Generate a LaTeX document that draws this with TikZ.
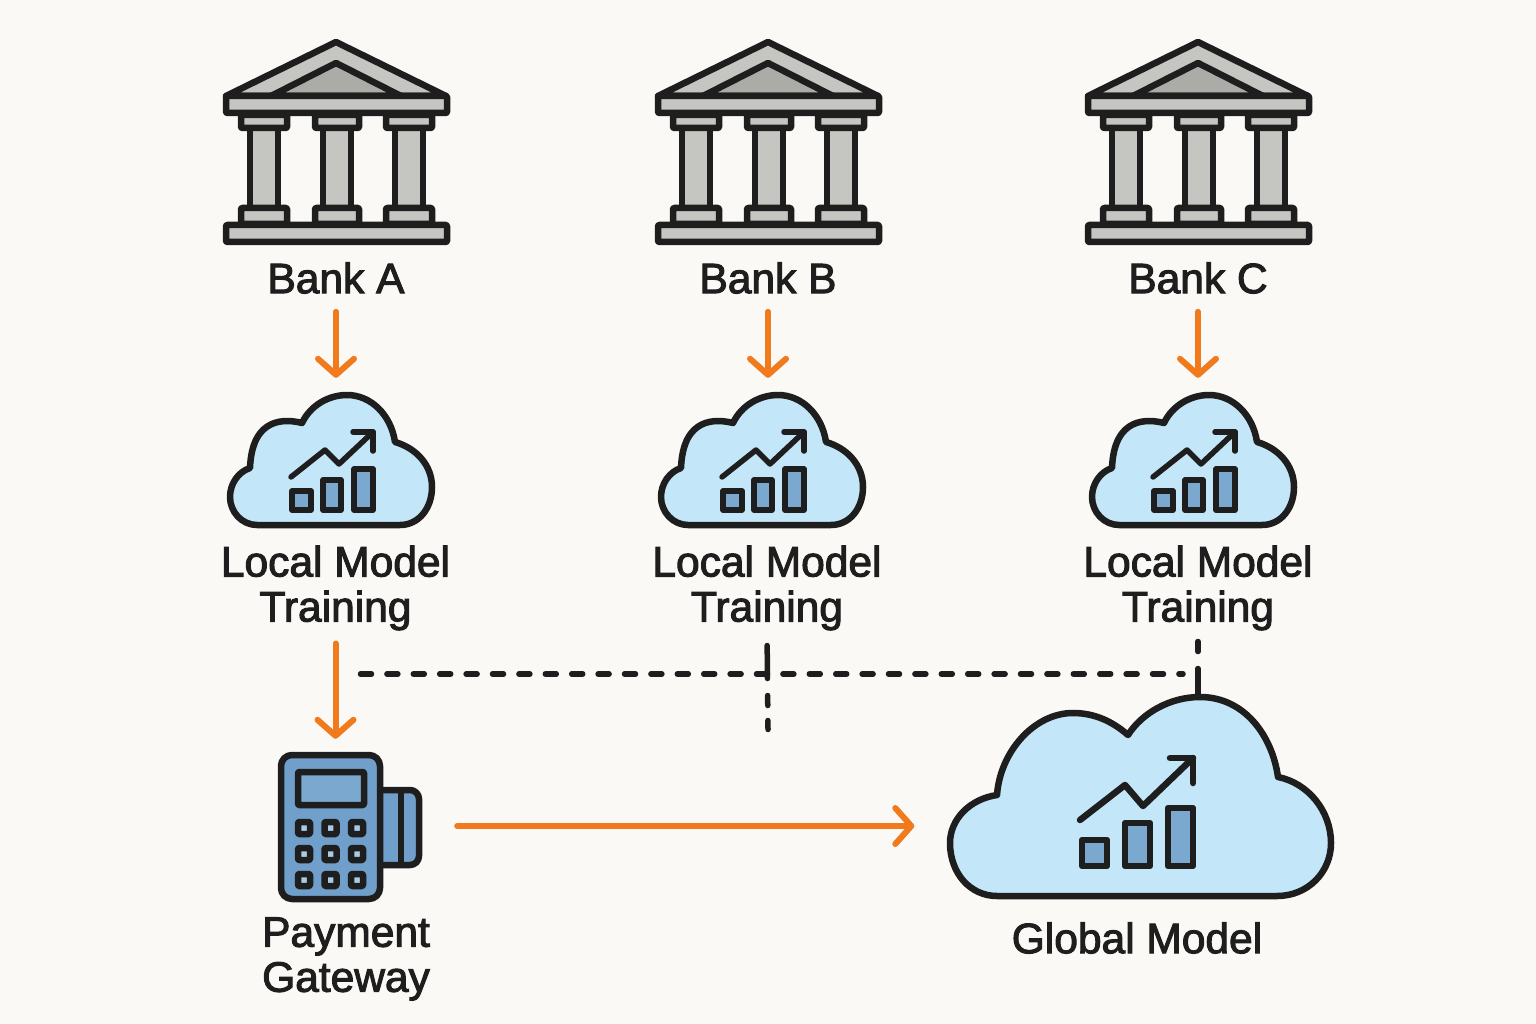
\documentclass[tikz,border=0pt]{standalone}
\usepackage{fontspec}
\setmainfont[RawFeature={embolden=2.4}]{Liberation Sans}
\usetikzlibrary{arrows.meta}
\definecolor{paper}{HTML}{FAF9F5}
\definecolor{ink}{HTML}{1E1E1E}
\definecolor{flow}{HTML}{F07A1C}
\definecolor{stone}{HTML}{C5C5C1}
\definecolor{stonedark}{HTML}{ABABA7}
\definecolor{skyfill}{HTML}{C3E6F8}
\definecolor{barfill}{HTML}{7BA8CE}
\definecolor{padfill}{HTML}{6F9FCA}
\definecolor{keyfill}{HTML}{A9CCE4}

\tikzset{
  outline/.style={draw=ink, line width=6.5pt, line join=round},
  pics/bankicon/.style={code={
    \draw[outline, fill=stone] (0,-99) -- (110,-45) -- (-110,-45) -- cycle;
    \draw[outline, fill=stonedark] (0,-78) -- (65,-45) -- (-65,-45) -- cycle;
    \draw[outline, fill=stone, rounded corners=1pt] (-110,-45) rectangle (111,-28);
    \draw[outline, fill=stone] (-86,-13) rectangle (-58,67);
    \draw[outline, fill=stone] (-13,-13) rectangle (15,67);
    \draw[outline, fill=stone] (59,-13) rectangle (87,67);
    \draw[outline, fill=stone, rounded corners=1pt] (-95,-26) rectangle (-49,-13);
    \draw[outline, fill=stone, rounded corners=1pt] (-21,-26) rectangle (23,-13);
    \draw[outline, fill=stone, rounded corners=1pt] (50,-26) rectangle (96,-13);
    \draw[outline, fill=stone, rounded corners=1pt] (-95,67) rectangle (-49,83);
    \draw[outline, fill=stone, rounded corners=1pt] (-21,67) rectangle (23,83);
    \draw[outline, fill=stone, rounded corners=1pt] (50,67) rectangle (96,83);
    \draw[outline, fill=stone, rounded corners=1pt] (-110,84) rectangle (111,101);
  }},
  pics/smallcloud/.style={code={
    \draw[outline, fill=skyfill] (-79,65) -- (64,65)
      .. controls (83,65) and (96,48) .. (96,27)
      .. controls (96,5) and (80,-12) .. (59,-18)
      .. controls (55,-45) and (35,-65) .. (11,-65)
      .. controls (-8,-65) and (-26,-54) .. (-34,-37)
      .. controls (-50,-41) and (-84,-44) .. (-86,8)
      .. controls (-98,12) and (-106,24) .. (-106,37)
      .. controls (-106,52) and (-94,65) .. (-79,65) -- cycle;
    \draw[outline, fill=barfill, line width=5.5pt] (-44,31) rectangle (-25,50);
    \draw[outline, fill=barfill, line width=5.5pt] (-13,20) rectangle (5,50);
    \draw[outline, fill=barfill, line width=5.5pt] (18,9) rectangle (37,50);
    \draw[outline, line width=5.5pt, line cap=round] (-45,17) -- (-11,-10) -- (3,4) -- (37,-28);
    \draw[outline, line width=5.5pt, line cap=round] (17,-28) -- (37,-28) -- (37,-9);
  }},
  pics/bigcloud/.style={code={
    \draw[outline, fill=skyfill] (-143,99) -- (137,99)
      .. controls (168,99) and (191,75) .. (191,46)
      .. controls (191,14) and (168,-14) .. (138,-20)
      .. controls (132,-62) and (104,-100) .. (60,-100)
      .. controls (30,-100) and (2,-84) .. (-12,-62)
      .. controls (-28,-76) and (-46,-84) .. (-67,-84)
      .. controls (-106,-84) and (-140,-45) .. (-143,-2)
      .. controls (-170,2) and (-190,22) .. (-190,46)
      .. controls (-190,76) and (-170,99) .. (-143,99) -- cycle;
    \draw[outline, fill=barfill] (-58,43) rectangle (-33,69);
    \draw[outline, fill=barfill] (-15,26) rectangle (10,69);
    \draw[outline, fill=barfill] (28,11) rectangle (53,69);
    \draw[outline, line cap=round] (-60,23) -- (-15,-12) -- (3,9) -- (53,-39);
    \draw[outline, line cap=round] (30,-39) -- (53,-39) -- (53,-14);
  }},
  pics/paymentpad/.style={code={
    \draw[outline, fill=padfill, rounded corners=9pt] (20,-37) -- (69,-37) -- (69,38) -- (20,38) -- cycle;
    \draw[outline] (51,-37) -- (51,38);
    \draw[outline, fill=padfill, rounded corners=11pt] (-69,-72) rectangle (30,72);
    \draw[outline, fill=barfill, rounded corners=1pt] (-52,-55) rectangle (14,-22);
    \foreach \kx in {-46,-19.5,7}
      \foreach \ky in {1,27,53}
        \draw[outline, fill=keyfill, rounded corners=1pt] (\kx-6,\ky-6) rectangle (\kx+6,\ky+6);
  }}
}

\begin{document}
\begin{tikzpicture}[x=1pt, y=-1pt,
      iconbox/.style={inner sep=0pt, minimum width=200pt, minimum height=130pt},
      caption/.style={inner sep=0pt, align=center, text=ink, font=\fontsize{42.5}{45}\selectfont},
      trainflow/.style={draw=flow, line width=6pt, line cap=round,
        -{Straight Barb[length=16pt, width=36pt, round, line width=6pt]}},
      link/.style={draw=ink, line width=5.5pt, line cap=round},
      linkdash/.style={link, dash pattern=on 11pt off 15.4pt}]
    \fill[paper] (0,0) rectangle (1536,1024);

    \node[iconbox] (bankA) at (336,141) {};
    \node[iconbox] (bankB) at (768,141) {};
    \node[iconbox] (bankC) at (1198,141) {};
    \pic at (bankA) {bankicon};
    \pic at (bankB) {bankicon};
    \pic at (bankC) {bankicon};

    \node[caption] (nameA) at (336,278) {Bank A};
    \node[caption] (nameB) at (768,278) {Bank B};
    \node[caption] (nameC) at (1198,278) {Bank C};

    \node[iconbox] (cloudA) at (336,460) {};
    \node[iconbox] (cloudB) at (767,460) {};
    \node[iconbox] (cloudC) at (1198,460) {};
    \pic at (cloudA) {smallcloud};
    \pic at (cloudB) {smallcloud};
    \pic at (cloudC) {smallcloud};

    \node[caption] (localA) at (335.5,588) {Local Model\\Training};
    \node[caption] (localB) at (767,588) {Local Model\\Training};
    \node[caption] (localC) at (1198,588) {Local Model\\Training};

    \node[iconbox, minimum width=144pt, minimum height=150pt] (gateway) at (350,827) {};
    \pic at (gateway) {paymentpad};
    \node[caption] (gatewayname) at (346,959) {Payment\\Gateway};

    \node[iconbox, minimum width=385pt, minimum height=204pt] (globalcloud) at (1140,797) {};
    \pic at (globalcloud) {bigcloud};
    \node[caption] (globalname) at (1137,938) {Global Model};

    \coordinate (dashL) at (360.5,674);
    \coordinate (dashR) at (1183,674);
    \coordinate (dropB) at (768,729.5);

    \draw[trainflow, shorten <=18pt, shorten >=17pt] (nameA.south) -- (nameA.south |- cloudA.north);
    \draw[trainflow, shorten <=18pt, shorten >=17pt] (nameB.south) -- (nameB.south |- cloudB.north);
    \draw[trainflow, shorten <=18pt, shorten >=17pt] (nameC.south) -- (nameC.south |- cloudC.north);
    \draw[trainflow, shorten <=13pt, shorten >=13pt] (localA.south) -- (localA.south |- gateway.north);
    \draw[trainflow, shorten <=35pt, shorten >=33pt] (gateway.east |- 0,826) -- (globalcloud.west |- 0,826);

    \draw[linkdash] (dashL) -- (dashR);
    \draw[link, dash pattern=on 33pt off 17pt on 10pt off 15pt on 10pt, shorten <=15pt] (localB.south) -- (dropB);
    \draw[link, dash pattern=on 10pt off 17pt on 30pt, shorten <=11pt] (localC.south) -- (localC.south |- globalcloud.north);
\end{tikzpicture}
\end{document}
